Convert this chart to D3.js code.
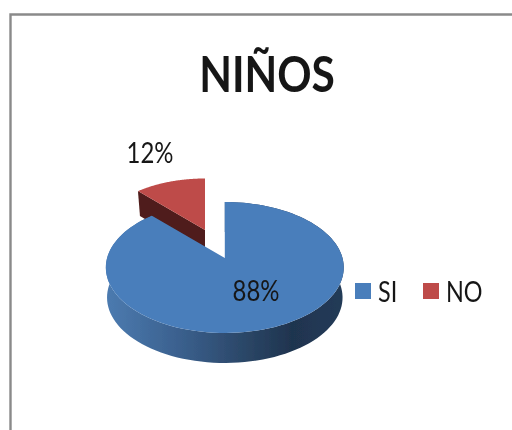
<!DOCTYPE html>
<html>
<head>
<meta charset="utf-8">
<script src="https://cdn.jsdelivr.net/npm/d3@7"></script>
<style>
  html, body { margin: 0; padding: 0; background: #fff; }
  svg { display: block; }
  text { font-family: Lato, "Open Sans", sans-serif; fill: #161616; }
</style>
</head>
<body>
<svg id="chart" width="512" height="430"></svg>
<script>
const titleText = "NIÑOS";
const categories = ["SI", "NO"];
const values = [88, 12];
const labels = ["88%", "12%"];
const colors = ["#4a7ebb", "#be4b48"];

const svg = d3.select("#chart");

// soft edges like the scaled screenshot
const defs = svg.append("defs");
defs.append("filter").attr("id", "soft")
  .append("feGaussianBlur").attr("stdDeviation", 0.45);

const wallGrad = defs.append("linearGradient").attr("id", "wall");
[["0%", "#4c7bb0"], ["30%", "#3b618f"], ["60%", "#2a4565"], ["78%", "#1f344f"], ["100%", "#233b58"]]
  .forEach(([o, c]) => wallGrad.append("stop").attr("offset", o).attr("stop-color", c));

// FRAME
const frame = svg.append("g").attr("filter", "url(#soft)");
frame.append("path")
  .attr("d", "M10.5,430V14.5H512")
  .attr("fill", "none").attr("stroke", "#8a8a8a").attr("stroke-width", 2.4);

// PIE IN PERSPECTIVE
// u, v are on the unit circle, k is the tilt towards the viewer
const tilt = 0.145;
const pieX = 224.8;
const xScale = d3.scaleLinear().domain([-1, 1]).range([pieX - 117.7, pieX + 117.7]);
const yScale = d3.scaleLinear().domain([-1, 1]).range([258 - 64.1, 258 + 64.1]);

const project = (angle, r = 1) => {
  const u = Math.sin(angle) * r;
  const v = -Math.cos(angle) * r;
  const w = 1 - tilt * v;
  return [xScale(u / w), yScale(v / w)];
};

const arcPoints = (a0, a1) => d3.range(0, 121).map((i) => project(a0 + (a1 - a0) * i / 120));
const line = d3.line();

const slices = d3.pie().sort(null)(values);
const blue = slices[0];
const red = slices[1];
const depth = 30;

const pieLayer = svg.append("g").attr("filter", "url(#soft)");

// NO slice: pulled out and a little smaller because it sits further back
const redAt = (p) => [205 + (p[0] - pieX) * 0.92, 230 + (p[1] - 258) * 0.92];
const redArc = arcPoints(red.startAngle, red.endAngle).map(redAt);
const redApex = redAt(project(0, 0));
const redDepth = 25;
pieLayer.append("path")
  .attr("d", line([redApex, redArc[0], [redArc[0][0] + 2, redArc[0][1] + redDepth], [redApex[0], redApex[1] + redDepth]]) + "Z")
  .attr("fill", "#4f1c1a");
pieLayer.append("path")
  .attr("d", line([redApex, ...redArc]) + "Z")
  .attr("fill", colors[1]);

// SI slice: wall, then top
const blueArc = arcPoints(blue.startAngle, blue.endAngle);
const blueLow = blueArc.map((p) => [pieX + (p[0] - pieX) * 0.99, p[1] + depth]);
pieLayer.append("path")
  .attr("d", line([...blueArc, ...blueLow.reverse()]) + "Z")
  .attr("fill", "url(#wall)");
pieLayer.append("path")
  .attr("d", line([project(0, 0), ...blueArc]) + "Z")
  .attr("fill", colors[0]);

// TEXTS
// reference text is narrower than Lato, so squeeze it sideways
const textLayer = svg.append("g").attr("filter", "url(#soft)");
textLayer.append("text")
  .attr("transform", "translate(267,92) scale(0.85,1)")
  .attr("text-anchor", "middle")
  .attr("font-size", 50).attr("font-weight", 700)
  .text(titleText);

textLayer.append("text")
  .attr("transform", "translate(256,301) scale(0.92,1.1)")
  .attr("text-anchor", "middle").attr("font-size", 26).text(labels[0]);
textLayer.append("text")
  .attr("transform", "translate(150,163) scale(0.92,1.1)")
  .attr("text-anchor", "middle").attr("font-size", 26).text(labels[1]);

// LEGEND
const legendX = d3.scaleOrdinal().domain(categories).range([355, 423]);
const legend = textLayer.selectAll("g.legend").data(categories).enter()
  .append("g").attr("class", "legend")
  .attr("transform", (d) => `translate(${legendX(d)},283)`);
legend.append("rect").attr("width", 16).attr("height", 16)
  .attr("fill", (d, i) => colors[i]);
legend.append("text")
  .attr("transform", "translate(23,18.5) scale(0.9,1.08)")
  .attr("font-size", 26).text((d) => d);
</script>
</body>
</html>
